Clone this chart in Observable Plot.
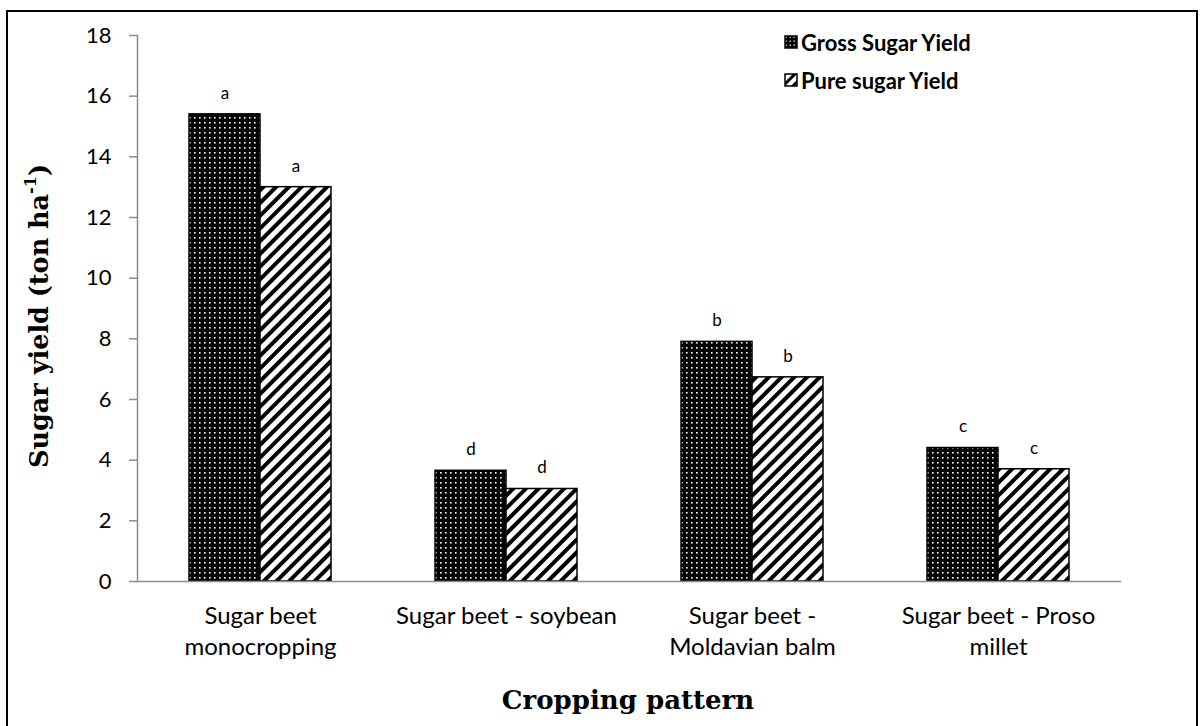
<!DOCTYPE html>
<html>
<head>
<meta charset="utf-8">
<script src="https://cdn.jsdelivr.net/npm/d3@7"></script>
<script src="https://cdn.jsdelivr.net/npm/@observablehq/plot@0.6"></script>
<style>
  body { margin: 0; background: #fff; overflow: hidden; }
  #wrap { position: relative; width: 1200px; height: 726px; }
  #border { position: absolute; left: 6px; top: 10px; width: 1192px; height: 800px; border: 2px solid #000; border-bottom: none; box-sizing: border-box; pointer-events: none; }
  #legend { position: absolute; left: 784px; top: 23px; font-family: Lato, "Open Sans", sans-serif; font-weight: bold; font-size: 22px; color: #000; }
  #legend .row { display: flex; align-items: center; height: 38px; }
  #legend svg { margin-right: 3px; }
</style>
</head>
<body>
<div id="wrap">
  <div id="chart"></div>
  <div id="legend"></div>
  <div id="border"></div>
</div>
<script>
const categories = ["Sugar beet monocropping", "Sugar beet - soybean", "Sugar beet - Moldavian balm", "Sugar beet - Proso millet"];
const categoryLabels = ["Sugar beet\nmonocropping", "Sugar beet - soybean", "Sugar beet -\nMoldavian balm", "Sugar beet - Proso\nmillet"];
const series = ["Gross Sugar Yield", "Pure sugar Yield"];
const grossValues = [15.4, 3.65, 7.9, 4.4];
const pureValues = [13.0, 3.05, 6.73, 3.7];
const grossLetters = ["a", "d", "b", "c"];
const pureLetters = ["a", "d", "b", "c"];
const yTicks = [0, 2, 4, 6, 8, 10, 12, 14, 16, 18];

const data = categories.flatMap((c, i) => [
  {cat: c, series: series[0], value: grossValues[i], letter: grossLetters[i]},
  {cat: c, series: series[1], value: pureValues[i], letter: pureLetters[i]}
]);

const axisGray = "#8c8c8c";
const font = "Lato, 'Open Sans', sans-serif";

const chart = Plot.plot({
  width: 1200,
  height: 726,
  marginLeft: 135,
  marginRight: 78,
  marginTop: 35,
  marginBottom: 145,
  style: {fontFamily: font, background: "transparent", overflow: "visible"},
  fx: {domain: categories, padding: 0, label: null, axis: null},
  x: {domain: series, paddingInner: 0, paddingOuter: 0.7135, axis: null},
  y: {domain: [0, 18], label: null, axis: null},
  marks: [
    Plot.axisY({ticks: yTicks, tickSize: 8, tickPadding: 18, stroke: axisGray, strokeWidth: 1.5, fill: "#000", fontSize: 22, label: null, facetAnchor: "left"}),
    Plot.frame({anchor: "left", stroke: axisGray, strokeWidth: 1.5, facetAnchor: "left"}),
    Plot.barY(data.filter(d => d.series === series[0]), {fx: "cat", x: "series", y: "value", fill: "url(#dots)", stroke: "#000", strokeWidth: 1.5}),
    Plot.barY(data.filter(d => d.series === series[1]), {fx: "cat", x: "series", y: "value", fill: "url(#stripes)", stroke: "#000", strokeWidth: 1.5}),
    Plot.ruleY([0], {stroke: axisGray, strokeWidth: 1.5}),
    Plot.text(data, {fx: "cat", x: "series", y: "value", text: "letter", dy: -21, fontSize: 17, fill: "#000"}),
    Plot.axisFx({anchor: "bottom", tickSize: 0, tickPadding: 20, fontSize: 24, lineHeight: 1.3, fill: "#000", label: null, tickFormat: c => categoryLabels[categories.indexOf(c)]})
  ]
});

const defsHtml = `
  <pattern id="dots" width="5" height="5" patternUnits="userSpaceOnUse">
    <rect width="5" height="5" fill="#000"/>
    <rect x="2" y="2" width="1.6" height="1.6" fill="#fff"/>
  </pattern>
  <pattern id="stripes" width="9" height="9" patternUnits="userSpaceOnUse" patternTransform="rotate(45)">
    <rect width="9" height="9" fill="#fff"/>
    <rect width="4" height="9" fill="#000"/>
  </pattern>`;
d3.select(chart).insert("defs", ":first-child").html(defsHtml);

const svg = d3.select(chart);
// y axis title
const yl = svg.append("text")
  .attr("transform", "translate(41,316) rotate(-90)")
  .attr("text-anchor", "middle")
  .attr("dominant-baseline", "middle")
  .attr("font-family", "'DejaVu Serif', serif")
  .attr("font-weight", "bold")
  .attr("font-size", 25.5)
  .attr("fill", "#000");
yl.append("tspan").text("Sugar yield (ton ha");
yl.append("tspan").attr("baseline-shift", "super").attr("font-size", 16).text("-1");
yl.append("tspan").text(")");
// x axis title
svg.append("text")
  .attr("x", 628).attr("y", 709)
  .attr("text-anchor", "middle")
  .attr("font-family", "'DejaVu Serif', serif")
  .attr("font-weight", "bold")
  .attr("font-size", 26)
  .attr("fill", "#000")
  .text("Cropping pattern");

document.getElementById("chart").appendChild(chart);

// legend
const legend = d3.select("#legend");
series.forEach((s, i) => {
  const row = legend.append("div").attr("class", "row");
  const sw = row.append("svg").attr("width", 14).attr("height", 14);
  const defs = sw.append("defs");
  if (i === 0) {
    const p = defs.append("pattern").attr("id", "ldots").attr("width", 4).attr("height", 4).attr("patternUnits", "userSpaceOnUse");
    p.append("rect").attr("width", 4).attr("height", 4).attr("fill", "#000");
    p.append("rect").attr("x", 1.5).attr("y", 1.5).attr("width", 1.3).attr("height", 1.3).attr("fill", "#fff");
  } else {
    const p = defs.append("pattern").attr("id", "lstripes").attr("width", 7).attr("height", 7).attr("patternUnits", "userSpaceOnUse").attr("patternTransform", "rotate(45)");
    p.append("rect").attr("width", 7).attr("height", 7).attr("fill", "#fff");
    p.append("rect").attr("width", 3).attr("height", 7).attr("fill", "#000");
  }
  sw.append("rect").attr("x", 1).attr("y", 1).attr("width", 12).attr("height", 12)
    .attr("fill", i === 0 ? "url(#ldots)" : "url(#lstripes)").attr("stroke", "#000").attr("stroke-width", 1.5);
  row.append("span").text(s);
});
</script>
</body>
</html>
